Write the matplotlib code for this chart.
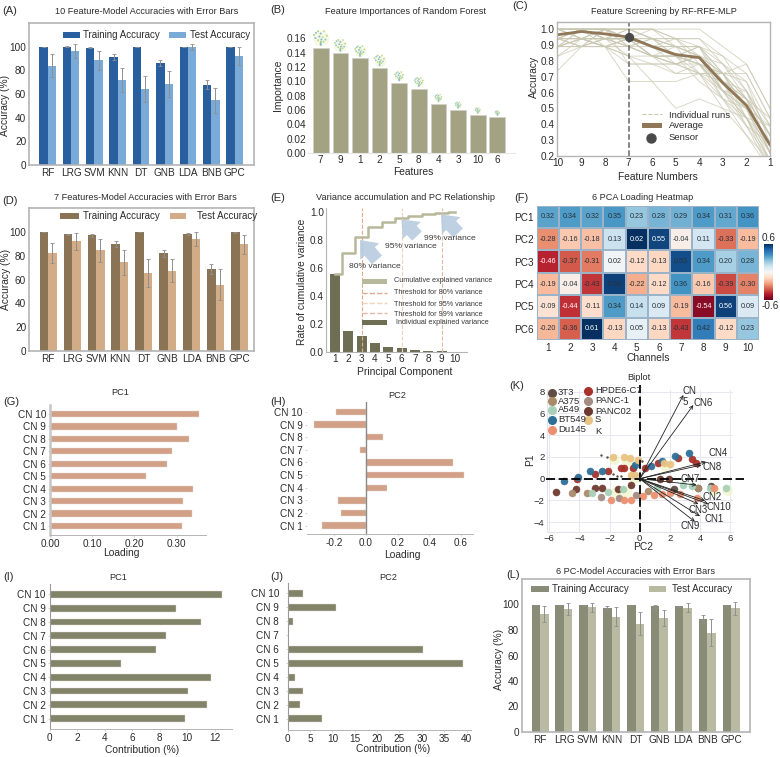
import matplotlib
matplotlib.use("Agg")
import matplotlib.pyplot as plt
from matplotlib.lines import Line2D
from matplotlib.patches import Rectangle
import numpy as np

plt.rcParams['font.family'] = ['Liberation Sans', 'DejaVu Sans']
W, H = 780, 757
fig = plt.figure(figsize=(W / 100, H / 100), dpi=100, facecolor='white')

# ---------------- data ----------------
models = ['RF', 'LRG', 'SVM', 'KNN', 'DT', 'GNB', 'LDA', 'BNB', 'GPC']
a_train = [100, 100, 99, 91.5, 100, 86, 100, 68, 100]
a_test = [84, 96.3, 88.5, 72, 64, 68.5, 99.7, 54.6, 91.8]
a_train_err = [0, 0.3, 0.5, 2.5, 0, 2.5, 0, 3.5, 0]
a_test_err = [9.5, 5.7, 8, 10, 11, 11, 2.3, 10.5, 7.6]
d_train = [100, 98, 97, 89.5, 100, 82, 98, 69, 99.5]
d_test = [82, 92, 84.5, 74.5, 65.5, 67.5, 94, 55.5, 89.5]
d_train_err = [0, 0.5, 1.5, 2.5, 0, 3, 1, 4, 0.5]
d_test_err = [8.5, 7, 9.5, 10.5, 11.5, 9.5, 5.5, 13, 8]
l_train = [99.5, 99.5, 99.5, 97, 99.5, 98.5, 98.5, 89, 99.5]
l_test = [92.5, 96.5, 98, 90.5, 85, 89.5, 97.5, 78, 97]
l_train_err = [0, 0, 0, 1.5, 0, 1, 0.5, 2.5, 0]
l_test_err = [6, 4.5, 3.5, 7.5, 9, 6.5, 3.5, 10.5, 5]

b_features = ['7', '9', '1', '2', '5', '8', '4', '3', '10', '6']
b_importance = [0.147, 0.139, 0.132, 0.119, 0.098, 0.090, 0.069, 0.060, 0.053, 0.050]

c_numbers = [10, 9, 8, 7, 6, 5, 4, 3, 2, 1]
c_average = [0.965, 0.985, 0.97, 0.95, 0.89, 0.84, 0.82, 0.66, 0.52, 0.27]
c_runs = [
    [0.74, 0.89, 0.89, 0.94, 0.89, 0.83, 0.78, 0.61, 0.50, 0.28],
    [0.89, 0.89, 0.89, 0.89, 0.83, 0.83, 0.83, 0.72, 0.56, 0.33],
    [0.94, 1.00, 1.00, 0.94, 0.94, 0.89, 0.83, 0.67, 0.61, 0.39],
    [1.00, 1.00, 1.00, 1.00, 1.00, 1.00, 1.00, 0.89, 0.78, 0.50],
    [0.89, 0.94, 0.94, 0.94, 0.83, 0.78, 0.78, 0.72, 0.56, 0.22],
    [0.94, 0.94, 0.89, 0.83, 0.67, 0.67, 0.72, 0.61, 0.44, 0.17],
    [1.00, 1.00, 0.94, 0.94, 0.89, 0.89, 0.89, 0.72, 0.50, 0.22],
    [0.94, 0.89, 0.94, 1.00, 1.00, 0.94, 0.89, 0.83, 0.61, 0.33],
    [0.83, 0.94, 0.89, 0.78, 0.78, 0.78, 0.72, 0.72, 0.72, 0.44],
    [1.00, 1.00, 1.00, 0.94, 0.89, 0.83, 0.78, 0.56, 0.39, 0.11],
    [0.89, 0.89, 0.94, 0.94, 0.94, 0.89, 0.83, 0.67, 0.44, 0.28],
    [0.94, 1.00, 1.00, 1.00, 0.94, 0.94, 0.94, 0.78, 0.67, 0.39],
    [1.00, 0.94, 0.94, 0.89, 0.83, 0.72, 0.78, 0.61, 0.56, 0.22],
    [0.89, 0.94, 0.89, 0.67, 0.67, 0.50, 0.56, 0.50, 0.33, 0.11],
    [0.94, 0.94, 1.00, 0.94, 0.89, 0.83, 0.89, 0.72, 0.50, 0.28],
    [1.00, 1.00, 0.94, 1.00, 0.94, 0.83, 0.83, 0.61, 0.61, 0.33],
    [0.89, 1.00, 0.94, 0.89, 0.89, 0.83, 0.72, 0.67, 0.50, 0.17],
    [0.94, 0.94, 0.94, 0.94, 0.83, 0.78, 0.83, 0.56, 0.44, 0.22],
    [1.00, 1.00, 1.00, 0.89, 0.83, 0.89, 0.83, 0.72, 0.78, 0.50],
    [0.89, 0.89, 1.00, 0.78, 0.78, 0.72, 0.72, 0.72, 0.67, 0.28],
    [0.94, 1.00, 0.94, 0.94, 1.00, 0.94, 0.78, 0.67, 0.39, 0.17],
    [0.83, 0.89, 0.94, 0.89, 0.83, 0.83, 0.89, 0.61, 0.50, 0.39],
    [1.00, 0.94, 1.00, 1.00, 0.94, 0.89, 0.72, 0.50, 0.44, 0.11],
    [0.94, 0.94, 0.89, 0.94, 0.89, 0.78, 0.83, 0.78, 0.56, 0.33],
    [0.89, 1.00, 1.00, 0.94, 0.89, 0.94, 0.94, 0.83, 0.72, 0.44],
    [1.00, 0.94, 0.94, 0.83, 0.83, 0.83, 0.67, 0.56, 0.33, 0.17],
    [0.94, 0.89, 1.00, 1.00, 1.00, 0.89, 0.89, 0.67, 0.50, 0.22],
    [0.89, 0.94, 1.00, 0.94, 0.83, 0.83, 0.83, 0.61, 0.39, 0.28],
    [1.00, 1.00, 0.89, 0.83, 0.78, 0.78, 0.83, 0.67, 0.56, 0.33],
    [0.94, 1.00, 1.00, 0.89, 0.94, 0.83, 0.78, 0.72, 0.44, 0.39],
    [0.89, 0.94, 0.94, 0.94, 0.89, 0.89, 0.89, 0.78, 0.61, 0.22],
    [1.00, 0.94, 0.89, 0.94, 0.83, 0.78, 0.72, 0.56, 0.50, 0.28],
    [0.94, 0.89, 0.89, 0.89, 0.94, 0.94, 0.83, 0.67, 0.56, 0.44],
    [1.00, 1.00, 0.94, 0.94, 0.89, 0.83, 0.78, 0.61, 0.44, 0.17],
]

e_components = [1, 2, 3, 4, 5, 6, 7, 8, 9, 10]
e_individual = [0.555, 0.152, 0.113, 0.066, 0.038, 0.028, 0.014, 0.008, 0.005, 0.003]
e_cumulative = [0.56, 0.71, 0.82, 0.89, 0.93, 0.96, 0.975, 0.985, 0.993, 1.0]
e_thresholds = [3, 6, 9]

f_rows = ['PC1', 'PC2', 'PC3', 'PC4', 'PC5', 'PC6']
f_cols = ['1', '2', '3', '4', '5', '6', '7', '8', '9', '10']
f_pc1 = [0.32, 0.34, 0.32, 0.35, 0.23, 0.28, 0.29, 0.34, 0.31, 0.36]
f_pc2 = [-0.28, -0.16, -0.18, 0.13, 0.62, 0.55, -0.04, 0.11, -0.33, -0.19]
f_pc3 = [-0.46, -0.37, -0.31, 0.02, -0.12, -0.13, 0.53, 0.34, 0.20, 0.28]
f_pc4 = [-0.19, -0.04, -0.43, 0.56, -0.22, -0.12, 0.36, -0.16, -0.39, -0.30]
f_pc5 = [-0.09, -0.44, -0.11, 0.34, 0.14, 0.09, -0.19, -0.54, 0.56, 0.09]
f_pc6 = [-0.20, -0.36, 0.61, -0.13, 0.05, -0.13, -0.43, 0.42, -0.12, 0.23]

channels = ['CN 1', 'CN 2', 'CN 3', 'CN 4', 'CN 5', 'CN 6', 'CN 7', 'CN 8', 'CN 9', 'CN 10']
g_loading = [0.312, 0.336, 0.316, 0.340, 0.228, 0.277, 0.289, 0.330, 0.301, 0.352]
h_loading = [-0.28, -0.16, -0.18, 0.13, 0.62, 0.55, -0.04, 0.11, -0.33, -0.19]
i_contrib = [9.87, 11.47, 10.06, 11.7, 5.2, 7.76, 8.44, 11.0, 9.16, 12.53]
j_contrib = [7.7, 2.7, 3.35, 1.65, 39.1, 30.2, 0.15, 1.2, 10.75, 3.4]

k_groups = {
    'PANC02': ([-5.55, -4.23, -2.96, -2.52, -1.42, -0.58, 1.35, 1.97],
               [-1.26, -0.92, -0.83, -0.83, -0.95, -0.58, -0.06, 0.0]),
    '3T3': ([4.73, 2.28, 3.89], [-0.67, -0.95, -0.83]),
    'HPDE6-C7': ([-4.18, -2.96, -2.08, -1.24, -1.04, -0.46, 0.35, 1.24, 2.52, 3.5, 3.74],
                 [0.0, 0.43, 0.71, 0.98, 1.01, 1.01, 0.95, 1.41, 1.87, 1.78, 1.41]),
    'BT549': ([-5.02, -4.09, -3.27, -2.52, -0.31, 0.75, 1.46, 2.35, 3.3],
              [-0.25, 0.18, 0.71, 0.71, 1.23, 1.17, 1.63, 2.09, 2.39]),
    'A375': ([-4.51, -3.5, 0.53, 3.89], [-1.32, -1.32, -1.1, -0.83]),
    'PANC-1': ([-2.57, -1.37, -0.24], [-1.66, -1.78, -1.5]),
    'A549': ([-3.19, -2.08, -1.08, 2.9, 3.47, 4.67, 5.71, 1.13],
             [-1.29, -1.2, -0.95, -0.61, -0.71, -0.89, -0.83, -0.89]),
    'Du145': ([-1.92, -1.02, -0.58, 0.2, 0.97, 1.5, 2.01, 2.68, 3.78, 4.93],
              [-1.96, -1.96, -1.96, -1.56, -1.5, -1.44, -1.29, -1.44, -1.81, -0.83]),
    'S': ([-1.79, -1.04, -0.64, -0.09, -0.57, -0.31, 1.62, 2.01],
          [2.02, 1.96, 1.87, 1.72, 0.34, 0.34, 1.41, 1.32]),
}
k_pale_x = [-1.7, -0.9, -0.5, -0.4, 1.7, 5.8, 4.9, -1.6, -0.9]
k_pale_y = [1.8, 1.7, 1.5, 0.1, 1.2, -1.0, -1.0, -1.2, -1.2]
k_small_x = [-2.57, -2.19, -1.75, -1.48, -1.24, 0.18]
k_small_y = [2.15, 1.96, 0.4, 0.28, 0.21, 1.63]
k_names = ['CN1', 'CN2', 'CN3', 'CN4', 'CN5', 'CN6', 'CN7', 'CN8', 'CN9', 'CN10']
k_arrow_x = [4.0, 4.34, 3.9, 4.4, 2.9, 3.56, 3.78, 4.1, 3.67, 4.56]
k_arrow_y = [-3.44, -2.02, -2.33, 1.56, 7.7, 6.78, -0.58, 1.26, -3.96, -2.33]

# ---------------- style ----------------
FRAME = '#b4b4b4'
TXT = '#2b2b2b'
FS_TICK = 7.2
FS_TITLE = 6.6
FS_LAB = 7.4
K_COLORS = {'PANC02': '#6e3a30', '3T3': '#5e4c42', 'HPDE6-C7': '#a8322a', 'BT549': '#2e6f97',
            'A375': '#a98b6a', 'PANC-1': '#a38c82', 'A549': '#a8d0b8', 'Du145': '#ec8f70',
            'S': '#e9c384'}


def fx(x):
    return x / W


def fy(y):
    return 1 - y / H


def make_ax(l, t, r, b):
    return fig.add_axes([fx(l), fy(b), (r - l) / W, (b - t) / H])


def title(ax, s, x, y, size=FS_TITLE):
    t = ax.set_title(s, fontsize=size, color=TXT, y=0.5, ha='center', va='center')
    t.set_transform(fig.transFigure)
    t.set_position((fx(x), fy(y)))


def xlab(ax, s, x, y, size=FS_LAB):
    ax.set_xlabel(s, fontsize=size, color=TXT, ha='center', va='center')
    ax.xaxis.set_label_coords(fx(x), fy(y), transform=fig.transFigure)


def ylab(ax, s, x, y, size=FS_LAB):
    ax.set_ylabel(s, fontsize=size, color=TXT, ha='center', va='center', rotation=90)
    ax.yaxis.set_label_coords(fx(x), fy(y), transform=fig.transFigure)


def label(s, x, y, size=8, color=TXT, ha='center'):
    fig.text(fx(x), fy(y), s, fontsize=size, color=color, ha=ha, va='center')


def hline(x0, x1, y, **kw):
    fig.add_artist(Line2D([fx(x0), fx(x1)], [fy(y), fy(y)], transform=fig.transFigure, **kw))


def swatch(x0, x1, y, h, color):
    fig.add_artist(Rectangle((fx(x0), fy(y + h / 2)), (x1 - x0) / W, h / H,
                             transform=fig.transFigure, facecolor=color, edgecolor='none'))


def bar_panel(box, train, test, terr, verr, c1, c2, xlim, ymin, leg):
    ax = make_ax(*box)
    x = np.arange(len(models))
    w = 0.355
    ek = dict(ecolor='#8f8f8f', elinewidth=0.7, capsize=1.6, capthick=0.6)
    ax.bar(x - w / 2, train, w, color=c1, yerr=terr, error_kw=ek)
    ax.bar(x + w / 2, test, w, color=c2, yerr=verr, error_kw=ek)
    ax.set_xlim(*xlim)
    ax.set_ylim(ymin, 120)
    ax.set_xticks(x)
    ax.set_xticklabels(models)
    ax.set_yticks([0, 20, 40, 60, 80, 100])
    ax.tick_params(length=0, labelsize=FS_TICK, labelcolor=TXT, pad=2)
    for s in ax.spines.values():
        s.set_color(FRAME)
        s.set_linewidth(1.2)
    for (x0, x1, tx, name, col, yy) in leg:
        swatch(x0, x1, yy, 6.5, col)
        label(name, tx, yy, size=7, ha='left')
    return ax


# ---------------- A ----------------
axA = bar_panel((29, 23, 254, 165), a_train, a_test, a_train_err, a_test_err,
                '#2a5f9f', '#7aaad8', (-0.8, 8.83), 0,
                [(62.5, 80, 83, 'Training Accuracy', '#2a5f9f', 35),
                 (169, 186, 189.5, 'Test Accuracy', '#7aaad8', 35)])
title(axA, '10 Feature-Model Accuracies with Error Bars', 147, 11)
ylab(axA, 'Accuracy (%)', 5.5, 105)
label('(A)', 10, 11)

# ---------------- B ----------------
axB = make_ax(308, 10, 515, 153)
xb = np.arange(len(b_features))
axB.bar(xb, b_importance, 0.8, color='#a3a282', edgecolor='#d0d0d0', linewidth=0.5)
tree_dx = np.array([-0.5, -0.35, -0.2, 0.0, 0.25, 0.45, -0.4, -0.1, 0.15, 0.35, -0.2, 0.05, 0.2, 0.0, 0.0, 0.0])
tree_dy = np.array([0.75, 0.9, 1.0, 0.85, 1.0, 0.7, 0.55, 0.65, 0.6, 0.45, 0.4, 0.45, 0.3, 0.2, 0.1, 0.3])
tree_col = ['#b4d88c', '#92c4d2', '#b4d88c', '#84b8d2', '#c4e09a', '#b4d88c', '#92c4d2', '#84b8d2',
            '#c4e09a', '#92c4d2', '#b4d88c', '#84b8d2', '#b4d88c', '#84b8d2', '#84b8d2', '#a4cc98']
tree_scale = [1.0, 0.8, 0.72, 0.72, 0.62, 0.62, 0.5, 0.42, 0.38, 0.32]
for xi, h, s in zip(xb, b_importance, tree_scale):
    bx = xi + tree_dx * 13.5 * s / 19.6
    by = h + (1.5 + tree_dy * 15 * s) / 716
    axB.scatter([xi], [h + (1.5 + 8 * s) / 716], s=130 * s * s, color='#f6f8dc', alpha=0.8, linewidths=0, zorder=3)
    axB.scatter(bx, by, s=2.2 * s, c=tree_col, linewidths=0, zorder=4)
axB.set_xlim(-0.65, 9.9)
axB.set_ylim(0, 143 / 716)
axB.set_xticks(xb)
axB.set_xticklabels(b_features)
axB.set_yticks(np.arange(0, 0.161, 0.02))
axB.set_yticklabels([f'{v:.2f}' for v in np.arange(0, 0.161, 0.02)])
axB.tick_params(length=0, labelsize=FS_TICK, labelcolor=TXT, pad=1.5)
for s in ['top', 'right', 'left']:
    axB.spines[s].set_visible(False)
axB.spines['bottom'].set_color('#e6e6e6')
title(axB, 'Feature Importances of Random Forest', 405, 11)
xlab(axB, 'Features', 413, 172)
ylab(axB, 'Importance', 278.5, 85)
label('(B)', 278, 10)

# ---------------- C ----------------
axC = make_ax(556.7, 22, 770, 156)
for run in c_runs:
    axC.plot(c_numbers, run, color='#c9c8b2', lw=0.7, alpha=0.7)
axC.plot(c_numbers, c_average, color='#8f7757', lw=2)
axC.axvline(7, color='#666666', ls='--', lw=1.1)
axC.scatter([7], [c_average[3]], s=32, color='#4a4a4a', zorder=5)
axC.set_xlim(10.05, 1)
axC.set_ylim(0.2, 1.045)
axC.set_xticks(c_numbers)
axC.set_yticks(np.arange(0.2, 1.01, 0.1))
axC.tick_params(length=0, labelsize=FS_TICK, labelcolor=TXT, pad=1.5)
for s in axC.spines.values():
    s.set_color(FRAME)
    s.set_linewidth(1.0)
title(axC, 'Feature Screening by RF-RFE-MLP', 664, 12)
xlab(axC, 'Feature Numbers', 658, 177)
ylab(axC, 'Accuracy', 534, 77)
label('(C)', 520, 6)
hline(642, 662, 113.5, color='#c9c8b2', lw=0.8, ls='--')
label('Individual runs', 669, 116, size=6.8, ha='left')
swatch(642, 662, 125.5, 4.5, '#8f7757')
label('Average', 669, 126, size=6.8, ha='left')
fig.add_artist(Line2D([fx(651)], [fy(138)], transform=fig.transFigure, marker='o', ms=6.5,
                      color='#4a4a4a', ls='none'))
label('Sensor', 669, 138, size=6.8, ha='left')

# ---------------- D ----------------
axD = bar_panel((29, 208, 254, 351), d_train, d_test, d_train_err, d_test_err,
                '#8b7355', '#d1ac86', (-0.8, 8.6), 0,
                [(60, 78.5, 83, 'Training Accuracy', '#8b7355', 216),
                 (169.5, 186, 197, 'Test Accuracy', '#d1ac86', 216)])
title(axD, '7 Features-Model Accuracies with Error Bars', 145, 197)
ylab(axD, 'Accuracy (%)', 6, 279)
label('(D)', 10, 201)

# ---------------- E ----------------
axE = make_ax(326, 208, 467, 352)
axE.bar(e_components, e_individual, 0.75, color='#6e6e54')
axE.step(e_components, e_cumulative, where='mid', color='#b8b89a', lw=1.8)
for th, c in zip(e_thresholds, ['#dfa98c', '#efd3bd', '#e2b9a5']):
    axE.axvline(th, color=c, ls='--', lw=0.8)
axE.set_xlim(0.325, 10.9)
axE.set_ylim(0, 144 / 140)
axE.set_xticks(e_components)
axE.set_yticks([0, 0.2, 0.4, 0.6, 0.8, 1.0])
axE.tick_params(length=0, labelsize=FS_TICK, labelcolor=TXT, pad=1.5)
for s in ['top', 'right']:
    axE.spines[s].set_visible(False)
axE.spines['left'].set_color(FRAME)
axE.spines['bottom'].set_color(FRAME)
title(axE, 'Variance accumulation and PC Relationship', 405.7, 197)
xlab(axE, 'Principal Component', 405, 372)
ylab(axE, 'Rate of cumulative variance', 302, 282)
label('(E)', 278, 198)
for (tip, tail) in [((360, 240), (377, 260)), ((401.5, 219.5), (417, 236)), ((441, 214.5), (458, 233))]:
    axE.annotate('', xy=(fx(tip[0]), fy(tip[1])), xytext=(fx(tail[0]), fy(tail[1])),
                 xycoords='figure fraction', textcoords='figure fraction',
                 arrowprops=dict(arrowstyle='simple,head_width=1.5,head_length=0.9,tail_width=0.8',
                                 mutation_scale=12, color='#b7cbde', alpha=0.9, lw=0,
                                 shrinkA=0, shrinkB=0))
label('80% variance', 375, 267, size=6.1, color='#3a3a3a')
label('95% variance', 410.7, 246, size=6.1, color='#3a3a3a')
label('99% variance', 450, 238.7, size=6.1, color='#3a3a3a')
swatch(361.5, 387, 281.5, 4.5, '#b8b89a')
label('Cumulative explained variance', 394, 281, size=5.2, color='#3a3a3a', ha='left')
hline(361.5, 387, 292.7, color='#dfa98c', lw=1, ls='--')
label('Threshold for 80% variance', 394, 292.7, size=5.2, color='#3a3a3a', ha='left')
hline(361.5, 387, 303.3, color='#efd3bd', lw=1, ls='--')
label('Threshold for 95% variance', 394, 304, size=5.2, color='#3a3a3a', ha='left')
hline(361.5, 387, 312.7, color='#e2b9a5', lw=1, ls='--')
label('Threshold for 99% variance', 394, 314, size=5.2, color='#3a3a3a', ha='left')
swatch(361.5, 387, 322.7, 5, '#6e6e54')
label('Individual explained variance', 395.5, 322.7, size=5.2, color='#3a3a3a', ha='left')

# ---------------- F ----------------
axF = make_ax(536.7, 205.7, 759, 340)
f_matrix = np.array([f_pc1, f_pc2, f_pc3, f_pc4, f_pc5, f_pc6])
mesh = axF.pcolormesh(f_matrix, cmap='RdBu', vmin=-0.6, vmax=0.6, edgecolors='#9ab3c8', linewidth=0.15)
axF.invert_yaxis()
for r in range(f_matrix.shape[0]):
    for c in range(f_matrix.shape[1]):
        v = f_matrix[r, c]
        white = v in (-0.46, 0.62, 0.55, -0.44, 0.61, -0.54) or (v == 0.56 and r == 4)
        axF.text(c + 0.5, r + 0.5, f'{v:.2f}', ha='center', va='center', fontsize=5.2,
                 color='white' if white else '#27323a')
axF.set_xticks(np.arange(10) + 0.5)
axF.set_xticklabels(f_cols)
axF.set_yticks(np.arange(6) + 0.5)
axF.set_yticklabels(f_rows)
axF.tick_params(length=0, labelsize=FS_TICK, labelcolor=TXT, pad=2)
for s in axF.spines.values():
    s.set_visible(False)
title(axF, '6 PCA Loading Heatmap', 642.7, 197)
xlab(axF, 'Channels', 648, 358)
label('(F)', 521, 198)
caxF = make_ax(764, 244, 773, 300)
cbF = fig.colorbar(mesh, cax=caxF, ticks=[])
cbF.outline.set_visible(False)
label('0.6', 769, 238, size=7.2)
label('-0.6', 770, 306, size=7.2)


# ---------------- G H I J ----------------
def hbar_panel(box, values, color, xlim, ylim, xticks, xfmt):
    ax = make_ax(*box)
    y = np.arange(len(channels))
    ax.barh(y, values, 0.5, color=color, edgecolor='#e3dcd6', linewidth=0.3)
    ax.set_xlim(*xlim)
    ax.set_ylim(*ylim)
    ax.set_yticks(y)
    ax.set_yticklabels(channels)
    ax.set_xticks(xticks)
    ax.set_xticklabels([xfmt.format(v) for v in xticks])
    ax.tick_params(axis='x', length=1.2, width=0.4, color=FRAME, labelsize=FS_TICK, labelcolor=TXT, pad=1.5)
    ax.tick_params(axis='y', length=1.2, width=0.4, color=FRAME, labelsize=FS_TICK, labelcolor=TXT, pad=1.5)
    for s in ['top', 'right']:
        ax.spines[s].set_visible(False)
    ax.spines['bottom'].set_color(FRAME)
    ax.spines['bottom'].set_linewidth(0.7)
    return ax


axG = hbar_panel((50, 405, 205.7, 535), g_loading, '#d2a086', (0, 0.369), (-0.72, 9.72),
                 [0, 0.1, 0.2, 0.3], '{:.2f}')
axG.spines['left'].set_color('#c6c6c6')
axG.spines['left'].set_linewidth(1.8)
title(axG, 'PC1', 120, 393)
xlab(axG, 'Loading', 121, 553.5)
label('(G)', 11, 402)

axH = hbar_panel((306.7, 402, 472.7, 534), h_loading, '#d2a086', (-0.375, 0.675), (-0.66, 9.78),
                 [-0.2, 0, 0.2, 0.4, 0.6], '{:.1f}')
axH.spines['left'].set_visible(False)
axH.axvline(0, color='#8a8a8a', lw=1)
title(axH, 'PC2', 397, 395)
xlab(axH, 'Loading', 402, 554.5)
label('(H)', 278, 402)

axI = hbar_panel((49.7, 584, 231.7, 729), i_contrib, '#82846a', (0, 13.24), (-0.75, 9.75),
                 [0, 2, 4, 6, 8, 10, 12], '{:d}')
axI.spines['left'].set_color('#9a9a9a')
title(axI, 'PC1', 118, 577)
xlab(axI, 'Contribution (%)', 142, 750)
label('(I)', 8, 577)

axJ = hbar_panel((287.7, 583, 471, 730), j_contrib, '#82846a', (0, 41), (-0.8, 9.75),
                 [0, 5, 10, 15, 20, 25, 30, 35, 40], '{:d}')
axJ.spines['left'].set_color('#9a9a9a')
axJ.tick_params(axis='y', pad=5)
title(axJ, 'PC2', 388, 577)
xlab(axJ, 'Contribution (%)', 393, 749)
label('(J)', 277, 577)

# ---------------- K ----------------
axK = make_ax(546.7, 390, 733, 532)
axK.set_axisbelow(True)
axK.grid(True, color='#e7e7f2', lw=0.7)
axK.scatter(k_pale_x, k_pale_y, s=60, color='#eef5c4', alpha=0.7, linewidths=0, zorder=2)
for name, (gx, gy) in k_groups.items():
    axK.scatter(gx, gy, s=26, color=K_COLORS[name], alpha=0.95, edgecolors=K_COLORS[name],
                linewidths=0.3, zorder=3)
axK.scatter(k_small_x, k_small_y, s=3, color='#5a4a40', linewidths=0, zorder=3)
axK.plot([-6.2, 6.9], [0, 0], color='black', ls=(0, (5, 2)), lw=1.3, clip_on=False, zorder=4)
axK.plot([0, 0], [-4.9, 8.6], color='black', ls=(0, (5, 2)), lw=1.3, clip_on=False, zorder=4)
for ax_, ay_ in zip(k_arrow_x, k_arrow_y):
    axK.annotate('', xy=(ax_, ay_), xytext=(0, 0), zorder=5,
                 arrowprops=dict(arrowstyle='->,head_width=0.12,head_length=0.25', lw=0.6,
                                 color='#222222', shrinkA=0, shrinkB=0))
k_lab_pos = {'CN1': (4.96, -3.71), 'CN2': (4.82, -1.66), 'CN3': (3.85, -2.88), 'CN4': (5.18, 2.39),
             'CN6': (4.23, 7.0), 'CN7': (3.34, -0.06), 'CN8': (4.82, 1.04), 'CN9': (3.38, -4.36),
             'CN10': (5.27, -2.58), 'CN': (3.32, 8.1), '5': (3.05, 7.02)}
for n, (tx, ty) in k_lab_pos.items():
    axK.text(tx, ty, n, fontsize=7, color=TXT, ha='center', va='center', zorder=6, clip_on=False)
axK.set_xlim(-6.17, 6.19)
axK.set_ylim(-4.9, 8.16)
axK.set_xticks([-6, -4, -2, 0, 2, 4, 6])
axK.set_yticks([-4, -2, 0, 2, 4, 6, 8])
axK.tick_params(length=0, labelsize=FS_TICK - 0.4, labelcolor=TXT, pad=1.5)
for s in ['top', 'right']:
    axK.spines[s].set_visible(False)
axK.spines['left'].set_color('#e2e2ea')
axK.spines['bottom'].set_color('#e2e2ea')
title(axK, 'Biplot', 639, 377)
xlab(axK, 'PC2', 643, 547.5)
ylab(axK, 'P1', 530, 460)
label('(K)', 517, 386)
k_leg = [('3T3', 551.5, 392.5, 557, '#5e4c42'), ('A375', 551.5, 401, 557, '#a98b6a'),
         ('A549', 551.5, 410, 557, '#a8d0b8'), ('BT549', 551.5, 420, 557, '#2e6f97'),
         ('Du145', 551.5, 429.5, 557, '#ec8f70'), ('HPDE6-C7', 588, 390.5, 594, '#a8322a'),
         ('PANC-1', 588, 400.5, 594, '#a38c82'), ('PANC02', 588, 411, 594, '#6e3a30'),
         ('S', 588, 420, 594, '#e9c384')]
for n, mx, my, tx, col in k_leg:
    fig.add_artist(Line2D([fx(mx)], [fy(my)], transform=fig.transFigure, marker='o', ms=5.5,
                          color=col, ls='none'))
    label(n, tx + 1, my, size=6.8, ha='left')
label('K', 595, 431, size=6.8, ha='left')

# ---------------- L ----------------
axL = bar_panel((521.7, 579, 750, 732), l_train, l_test, l_train_err, l_test_err,
                '#898d77', '#b8bba2', (-0.77, 8.79), 0,
                [(531, 549, 552, 'Training Accuracy', '#898d77', 589),
                 (649, 666, 672, 'Test Accuracy', '#b8bba2', 589)])
title(axL, '6 PC-Model Accuracies with Error Bars', 636, 572)
ylab(axL, 'Accuracy (%)', 499, 659)
label('(L)', 513, 575)

fig.savefig('out.png', dpi=100)
